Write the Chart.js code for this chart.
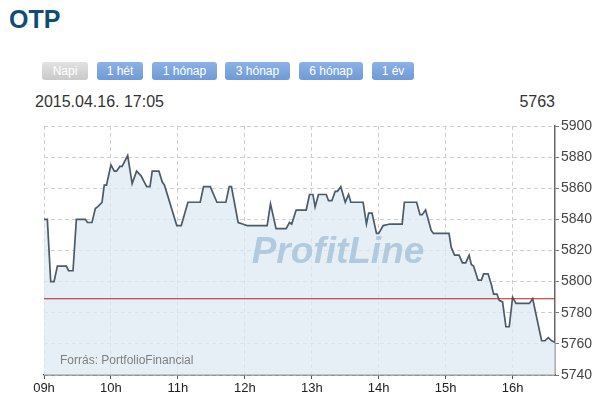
<!DOCTYPE html>
<html>
<head>
<meta charset="utf-8">
<script src="https://cdn.jsdelivr.net/npm/chart.js@4"></script>
<style>
  body { margin: 0; width: 606px; height: 412px; background: #fff; font-family: Arial, "Liberation Sans", sans-serif; position: relative; overflow: hidden; }
  #title { position: absolute; left: 9px; top: 5px; font-size: 25px; font-weight: bold; color: #0f4d78; }
  .btn { position: absolute; top: 62px; height: 18px; line-height: 18px; font-size: 12px; color: #fff; text-align: center; border-radius: 3px;
         background: linear-gradient(#8cb2e6, #6f9ad6); }
  .btn.off { background: linear-gradient(#e2e2e2, #c9c9c9); }
  #date { position: absolute; left: 35px; top: 93px; font-size: 16px; color: #333; }
  #last { position: absolute; right: 51px; top: 93px; font-size: 16px; color: #333; }
  #wrap { position: absolute; left: 0; top: 110px; width: 606px; height: 302px; }
</style>
</head>
<body>
<div id="title">OTP</div>
<div class="btn off" style="left:42px;width:46px">Napi</div>
<div class="btn" style="left:97px;width:46px">1 hét</div>
<div class="btn" style="left:152px;width:65px">1 hónap</div>
<div class="btn" style="left:225px;width:65px">3 hónap</div>
<div class="btn" style="left:299px;width:64px">6 hónap</div>
<div class="btn" style="left:372px;width:42px">1 év</div>
<div id="date">2015.04.16. 17:05</div>
<div id="last">5763</div>
<div id="wrap"><canvas id="chart"></canvas></div>
<script>
// minutes since 09:00
const minutes = [0, 3, 6, 9, 12, 20, 22, 26, 29, 37, 39, 43, 46, 48, 52, 54, 56, 60, 63, 65,
  68, 70, 75, 79, 83, 87, 92, 95, 97, 103, 106, 108, 119, 123, 129, 140, 143, 149, 155, 163,
  166, 168, 174, 178, 182, 200, 203, 208, 217, 220, 222, 226, 235, 238, 241, 243, 246, 253, 255, 258,
  261, 263, 266, 270, 273, 275, 286, 289, 291, 294, 298, 300, 304, 310, 321, 323, 334, 337, 339, 342,
  347, 349, 363, 365, 368, 372, 375, 378, 381, 383, 385, 389, 392, 394, 398, 401, 403, 406, 408, 411,
  414, 417, 420, 423, 435, 438, 446, 449, 452, 455, 458];
const prices = [5840, 5840, 5800, 5800, 5810, 5810, 5807, 5807, 5840, 5840, 5838, 5838, 5847, 5848, 5851, 5862, 5862, 5875, 5871, 5871,
  5874, 5874, 5881, 5863, 5871, 5868, 5861, 5861, 5871, 5871, 5864, 5862, 5836, 5836, 5851, 5851, 5861, 5861, 5851, 5851,
  5861, 5861, 5838, 5837, 5836, 5836, 5850, 5834, 5834, 5838, 5837, 5846, 5846, 5856, 5856, 5848, 5856, 5856, 5852, 5852,
  5858, 5858, 5861, 5851, 5856, 5851, 5851, 5837, 5844, 5844, 5831, 5831, 5836, 5837, 5837, 5851, 5851, 5843, 5843, 5846,
  5833, 5831, 5831, 5822, 5817, 5817, 5812, 5812, 5817, 5811, 5810, 5801, 5801, 5805, 5805, 5798, 5792, 5792, 5788, 5787,
  5771, 5771, 5790, 5786, 5786, 5789, 5762, 5762, 5764, 5762, 5761];
const prevClose = 5789;
const hourTicks = [0, 60, 120, 180, 240, 300, 360, 420];
const hourLabels = ['09h', '10h', '11h', '12h', '13h', '14h', '15h', '16h'];
const endMinute = 458;

const points = minutes.map((m, i) => ({ x: m, y: prices[i] }));

const overlay = {
  id: 'overlay',
  afterDatasetsDraw (chart) {
    const { ctx, chartArea } = chart;
    ctx.save();
    ctx.font = 'italic bold 37px Arial, "Liberation Sans", sans-serif';
    ctx.fillStyle = 'rgba(165, 192, 216, 0.8)';
    ctx.textAlign = 'center';
    ctx.textBaseline = 'middle';
    ctx.fillText('ProfitLine', 338, 143);
    ctx.font = '12px Arial, "Liberation Sans", sans-serif';
    ctx.fillStyle = '#808080';
    ctx.textAlign = 'left';
    ctx.textBaseline = 'alphabetic';
    ctx.fillText('Forrás: PortfolioFinancial', chartArea.left + 16, 254);
    ctx.restore();
  }
};

new Chart(document.getElementById('chart'), {
  type: 'line',
  data: {
    datasets: [
      {
        data: points,
        borderColor: '#4b5c69',
        borderWidth: 1.7,
        backgroundColor: 'rgba(222, 233, 243, 0.75)',
        fill: 'start',
        pointRadius: 0,
        tension: 0,
        order: 2
      },
      {
        data: [{ x: 0, y: prevClose }, { x: endMinute, y: prevClose }],
        borderColor: '#b81f22',
        borderWidth: 1.2,
        pointRadius: 0,
        fill: false,
        order: 1
      }
    ]
  },
  options: {
    responsive: true,
    maintainAspectRatio: false,
    animation: false,
    layout: { padding: { left: 44, top: 16, right: 0, bottom: 0 } },
    plugins: { legend: { display: false }, tooltip: { enabled: false } },
    scales: {
      x: {
        type: 'linear',
        min: 0,
        max: endMinute,
        afterBuildTicks: s => { s.ticks = hourTicks.map(v => ({ value: v })); },
        afterFit: s => { s.height = 37; },
        ticks: {
          callback: v => hourLabels[hourTicks.indexOf(v)],
          color: '#222',
          font: { size: 13, family: 'Arial, "Liberation Sans", sans-serif' },
          padding: 2,
          maxRotation: 0
        },
        grid: { color: '#d0d0d0', tickColor: '#555', tickLength: 4 },
        border: { display: true, color: '#555', width: 1.5, dash: [4, 3] }
      },
      y: {
        position: 'right',
        min: 5740,
        max: 5900,
        afterFit: s => { s.width = 51; },
        ticks: {
          stepSize: 10,
          callback: v => (v % 20 === 0 ? v : ''),
          color: '#444',
          font: { size: 14, family: 'Arial, "Liberation Sans", sans-serif' },
          padding: 2
        },
        grid: {
          color: c => (c.tick && c.tick.value % 20 === 0 ? '#cfcfcf' : '#e8e8e8'),
          tickColor: c => (c.tick && c.tick.value % 20 === 0 ? '#777' : '#d33'),
          tickLength: 4
        },
        border: { display: true, color: '#666', width: 1.5, dash: [4, 3] }
      }
    }
  },
  plugins: [overlay]
});
</script>
</body>
</html>
